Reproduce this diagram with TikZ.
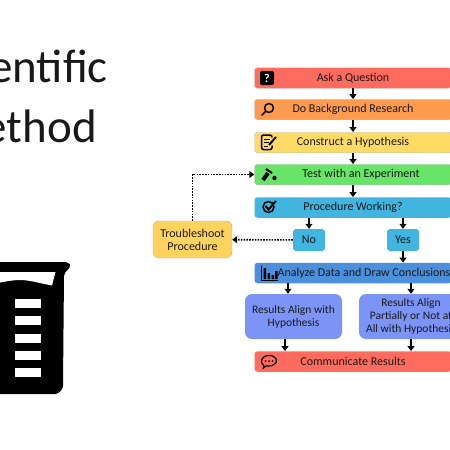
\documentclass[tikz,border=0pt]{standalone}
\usepackage{fontspec}
\setmainfont{Carlito}
\usetikzlibrary{arrows.meta}
\definecolor{askred}{HTML}{FF6B5E}
\definecolor{doorange}{HTML}{FF9B4E}
\definecolor{hypyellow}{HTML}{FFDB66}
\definecolor{testgreen}{HTML}{68E468}
\definecolor{procblue}{HTML}{41B4E0}
\definecolor{datablue}{HTML}{4A90DC}
\definecolor{resblue}{HTML}{7C94F6}
\definecolor{fixyellow}{HTML}{FFD35C}
\begin{document}
\begin{tikzpicture}[x=1pt,y=-1pt]
    \tikzstyle{stage}=[rectangle,rounded corners=3pt,minimum width=197pt,minimum height=20.5pt,inner sep=0pt,draw=black!25,line width=0.4pt,text=black!90,font=\fontsize{12}{13.2}\selectfont]
    \tikzstyle{small}=[stage,minimum width=32pt,minimum height=22pt,draw=none]
    \tikzstyle{result}=[stage,fill=resblue,rounded corners=7pt,minimum width=97pt,minimum height=45pt,align=center,draw=none,font=\fontsize{11.5}{13}\selectfont]
    \tikzstyle{flow}=[-{Triangle[width=7pt,length=5pt]},line width=1.2pt,black]
    \tikzstyle{retry}=[flow,dash pattern=on 1.6pt off 1.2pt,line width=1.6pt]
    \tikzstyle{title}=[anchor=base east,inner sep=0pt,font=\fontsize{47}{50}\selectfont,text=black!90]
    \tikzstyle{icon}=[line width=1.5pt,black,line cap=round,line join=round]
      \useasboundingbox (0,0) rectangle (450,450);
      \clip (0,0) rectangle (450,450);
      % title and beaker
      \node[title] (T_1) at (108,82) {Scientific};
      \node[title] (T_2) at (97,142) {Method};
      \fill[black,rounded corners=2pt] (-20,262) -- (68,262) -- (71,266) -- (64,274) -- (63,384) arc (0:90:10) -- (-20,394) -- cycle;
      \fill[white] (-20,272) -- (55.5,272) -- (52,285.5) .. controls (38,283) and (30,280) .. (20,280) .. controls (10,280) and (0,283) .. (-20,286) -- cycle;
      \foreach \y in {299,316,334,351,368}
        \fill[white] (15,\y) rectangle (41,\y+8.5);
      % flow boxes
      \node[stage,fill=askred] (S_1) at (353,78) {Ask a Question};
      \node[stage,fill=doorange] (S_2) at (353,109.5) {Do Background Research};
      \node[stage,fill=hypyellow] (S_3) at (353,142.5) {Construct a Hypothesis};
      \node[stage,fill=testgreen] (S_4) at (353,174.5) {\hspace*{16pt}Test with an Experiment};
      \node[stage,fill=procblue,draw=none] (S_5) at (353,207.5) {Procedure Working?};
      \node[small,fill=procblue] (S_6) at (309,240) {No};
      \node[small,fill=procblue] (S_7) at (403,240) {Yes};
      \node[stage,fill=fixyellow,minimum width=79pt,minimum height=37pt,rounded corners=6pt,align=center,draw=black!30] (S_8) at (192.5,239.5) {Troubleshoot\\Procedure};
      \node[stage,fill=datablue,draw=none] (S_9) at (353,273) {\hspace*{22pt}Analyze Data and Draw Conclusions};
      \node[result] (R_1) at (293.5,316.5) {Results Align with\\Hypothesis};
      \node[result,minimum width=104pt] (R_2) at (411,316.5) {Results Align\\Partially or Not at\\All with Hypothesis};
      \node[stage,fill=askred,draw=none] (S_10) at (353,361.5) {Communicate Results};
      % arrows
      \coordinate (A_1) at (288,290);
      \coordinate (A_2) at (285,345);
      \draw[flow] (S_1) -- (S_2);
      \draw[flow] (S_2) -- (S_3);
      \draw[flow] (S_3) -- (S_4);
      \draw[flow] (S_4) -- (S_5);
      \draw[flow] (S_5.south -| S_6) -- (S_6);
      \draw[flow] (S_5.south -| S_7) -- (S_7);
      \draw[flow] (S_7) -- (S_9.north -| S_7);
      \draw[flow] (S_9.south -| A_1) -- (R_1.north -| A_1);
      \draw[flow] (S_9.south -| R_2) -- (R_2);
      \draw[flow] (R_1.south -| A_2) -- (S_10.north -| A_2);
      \draw[flow] (R_2) -- (S_10.north -| R_2);
      \draw[retry] (S_6) -- (S_8);
      \draw[retry] (S_8) |- (S_4);
      % icons
      \node[fill=black,rounded corners=2pt,minimum size=14pt,inner sep=0pt,text=white,font=\bfseries\fontsize{12}{12}\selectfont] (I_1) at (267,78) {?};
      \draw[icon] (269,108) circle (4.5) (265.5,111.5) -- (262,115);
      \draw[icon,rounded corners=2pt] (272,137) -- (272,135) -- (261.5,135) -- (261.5,149.5) -- (272,149.5) -- (272,146);
      \draw[line width=1pt] (264,139) -- (270,139) (264,142.5) -- (269,142.5) (264,146) -- (268,146);
      \draw[line width=2pt] (269,145) -- (276,137);
      \draw[line width=4pt] (263,180) -- (268,173);
      \draw[line width=2pt] (266,169) -- (272,173);
      \fill (274.5,178) circle (2.2);
      \draw[icon] (268.5,207) circle (5.5);
      \draw[line width=1.9pt] (265.5,206) -- (268.5,209.5) -- (276,201);
      \draw[icon,line width=1.2pt] (261.5,266) -- (261.5,280.5) -- (277.5,280.5);
      \fill (263.5,268) rectangle (266,279) (267.5,273) rectangle (270,279) (271.5,275) rectangle (274,279) (275,271) rectangle (277.5,279);
      \draw[icon,line width=1.2pt] (264,366) .. controls (259,362) and (261.5,355.5) .. (269,355.5) .. controls (276.5,355.5) and (279,362) .. (274,364.5) .. controls (271,366.5) and (268,366) .. (266,366) -- (263,368.5) -- cycle;
      \foreach \x in {265.5,269,272.5}
        \fill (\x,361) circle (1);
    \end{tikzpicture}
\end{document}
